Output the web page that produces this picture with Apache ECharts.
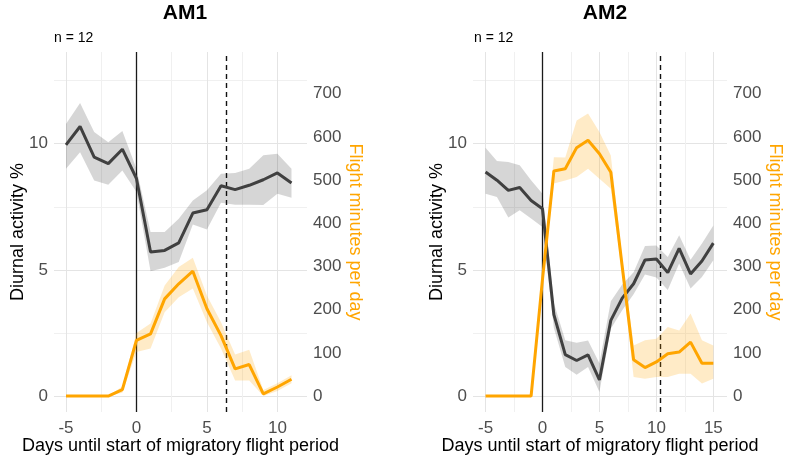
<!DOCTYPE html>
<html>
<head>
<meta charset="utf-8">
<script src="https://cdn.jsdelivr.net/npm/echarts@6/dist/echarts.min.js"></script>
<style>
  html, body { margin: 0; padding: 0; background: #fff; }
  #chart { width: 787px; height: 458px; }
</style>
</head>
<body>
<div id="chart"></div>
<script>
// AM1: days -5..11
const daysAM1 = [-5, -4, -3, -2, -1, 0, 1, 2, 3, 4, 5, 6, 7, 8, 9, 10, 11];
const actAM1 = [9.95, 10.68, 9.47, 9.21, 9.78, 8.62, 5.71, 5.77, 6.07, 7.25, 7.38, 8.33, 8.18, 8.35, 8.57, 8.84, 8.44];
const actLoAM1 = [9.01, 9.66, 8.54, 8.37, 8.94, 8.08, 4.95, 5.08, 5.31, 6.80, 6.60, 7.66, 7.58, 7.58, 7.57, 8.02, 7.86];
const actHiAM1 = [10.78, 11.61, 10.46, 10.06, 10.50, 9.01, 6.50, 6.50, 7.02, 7.75, 8.15, 8.81, 8.84, 9.01, 9.54, 9.60, 9.01];
const flyAM1 = [0, 0, 0, 0, 15, 129, 144, 225, 260, 289, 202, 140, 63, 73, 5, 21, 39];
const flyLoAM1 = [0, 0, 0, 0, 8, 102, 110, 194, 229, 249, 171, 110, 36, 36, 0, 12, 30];
const flyHiAM1 = [0, 0, 0, 0, 22, 146, 168, 256, 299, 320, 233, 171, 96, 107, 14, 30, 48];
const endAM1 = 6.35;

// AM2: days -5..15
const daysAM2 = [-5, -4, -3, -2, -1, 0, 1, 2, 3, 4, 5, 6, 7, 8, 9, 10, 11, 12, 13, 14, 15];
const actAM2 = [8.88, 8.55, 8.15, 8.26, 7.75, 7.42, 3.23, 1.64, 1.41, 1.63, 0.64, 3.00, 3.88, 4.45, 5.39, 5.43, 4.89, 5.85, 4.84, 5.35, 6.06];
const actLoAM2 = [8.02, 7.89, 7.07, 7.36, 7.03, 6.70, 2.70, 1.15, 0.85, 1.15, 0.16, 2.67, 3.40, 4.03, 4.82, 4.70, 4.20, 5.25, 4.26, 4.72, 5.38];
const actHiAM2 = [9.84, 9.31, 9.27, 9.14, 8.55, 8.02, 3.69, 2.21, 2.11, 2.20, 1.30, 3.76, 4.42, 4.91, 5.95, 5.97, 5.51, 6.37, 5.40, 6.04, 6.76];
const flyAM2 = [0, 0, 0, 0, 0, 270, 521, 526, 575, 592, 561, 518, 300, 84, 66, 79, 98, 102, 125, 76, 76];
const flyLoAM2 = [0, 0, 0, 0, 0, 260, 492, 499, 507, 526, 503, 480, 280, 44, 40, 44, 44, 52, 52, 29, 40];
const flyHiAM2 = [0, 0, 0, 0, 0, 280, 553, 552, 638, 654, 611, 557, 320, 117, 129, 133, 160, 152, 191, 129, 117];
const endAM2 = 10.3;

const FONT = 'Liberation Sans, Arial, sans-serif';
const GREY = '#404040';
const ORANGE = '#FFA500';
const GRIDCOL = ['#e4e4e4', '#f0f0f0'];

const pairs = (xs, ys) => xs.map((x, i) => [x, ys[i]]);

function xAxisFor(grid, min, max) {
  return {
    type: 'value', gridIndex: grid, min: min, max: max,
    minInterval: 2.5, maxInterval: 2.5,
    axisLine: { show: false }, axisTick: { show: false },
    axisLabel: {
      color: '#4d4d4d', fontSize: 17, fontFamily: FONT, margin: 8,
      showMinLabel: false, showMaxLabel: false,
      formatter: v => (Math.abs(v % 5) < 1e-9 ? String(v) : '')
    },
    splitLine: { show: true, showMinLine: false, showMaxLine: false,
      lineStyle: { color: GRIDCOL, width: 1 } },
    name: 'Days until start of migratory flight period',
    nameLocation: 'middle', nameGap: 25, nameMoveOverlap: false,
    nameTextStyle: { color: '#000', fontSize: 18, fontFamily: FONT }
  };
}

function yLeft(grid) {
  return {
    type: 'value', gridIndex: grid, position: 'left', min: -0.63, max: 13.63,
    minInterval: 2.5, maxInterval: 2.5,
    axisLine: { show: false }, axisTick: { show: false },
    axisLabel: {
      color: '#4d4d4d', fontSize: 17, fontFamily: FONT, margin: 6,
      showMinLabel: false, showMaxLabel: false,
      formatter: v => (Math.abs(v % 5) < 1e-9 ? String(Math.abs(v) < 1e-9 ? 0 : v) : '')
    },
    splitLine: { show: true, showMinLine: false, showMaxLine: false,
      lineStyle: { color: GRIDCOL, width: 1 } },
    name: 'Diurnal activity %', nameLocation: 'middle', nameGap: 27, nameMoveOverlap: false,
    nameTextStyle: { color: '#000', fontSize: 18, fontFamily: FONT }
  };
}

function yRight(grid) {
  return {
    type: 'value', gridIndex: grid, position: 'right', min: -36.8, max: 796.4,
    minInterval: 100, maxInterval: 100,
    axisLine: { show: false }, axisTick: { show: false },
    axisLabel: {
      color: '#4d4d4d', fontSize: 17, fontFamily: FONT, margin: 6,
      showMinLabel: false, showMaxLabel: false,
      formatter: v => (Math.abs(v % 100) < 1e-9 ? String(Math.abs(v) < 1e-9 ? 0 : v) : '')
    },
    splitLine: { show: false },
    name: 'Flight minutes per day', nameLocation: 'middle', nameGap: 39, nameRotate: -90,
    nameMoveOverlap: false,
    nameTextStyle: { color: ORANGE, fontSize: 18, fontFamily: FONT }
  };
}

// ribbon between lo and hi, drawn once as a polygon through the axis scales
function ribbon(xi, yi, days, lo, hi, fill) {
  return {
    type: 'custom', xAxisIndex: xi, yAxisIndex: yi, silent: true, clip: true,
    data: days.map((d, i) => [d, lo[i], hi[i]]),
    encode: { x: 0, y: [1, 2] },
    renderItem: (params, api) => {
      if (params.dataIndex !== 0) return null;
      const top = days.map((d, i) => api.coord([d, hi[i]]));
      const bot = days.map((d, i) => api.coord([d, lo[i]])).reverse();
      return { type: 'polygon', shape: { points: top.concat(bot) }, style: { fill: fill } };
    }
  };
}

function panel(grid, days, act, actLo, actHi, fly, flyLo, flyHi, endDay) {
  const xi = grid, yl = grid * 2, yr = grid * 2 + 1;
  const base = { type: 'line', xAxisIndex: xi, showSymbol: false, symbol: 'none', silent: true };
  return [
    ribbon(xi, yl, days, actLo, actHi, 'rgba(0,0,0,0.16)'),
    ribbon(xi, yr, days, flyLo, flyHi, 'rgba(255,165,0,0.22)'),
    Object.assign({}, base, {
      yAxisIndex: yl, data: pairs(days, act),
      lineStyle: { color: GREY, width: 3 },
      markLine: {
        silent: true, symbol: 'none', label: { show: false }, z: 1,
        data: [
          { xAxis: 0, lineStyle: { color: '#1a1a1a', width: 1.3, type: 'solid' } },
          { xAxis: endDay, lineStyle: { color: '#111', width: 1.4, type: [5, 4] } }
        ]
      }
    }),
    Object.assign({}, base, {
      yAxisIndex: yr, data: pairs(days, fly),
      lineStyle: { color: ORANGE, width: 3 }
    })
  ];
}

const chart = echarts.init(document.getElementById('chart'));
chart.setOption({
  animation: false,
  backgroundColor: '#fff',
  title: [
    { text: 'AM1', left: 180, top: -2, textAlign: 'center',
      textStyle: { fontSize: 21, fontWeight: 'bold', color: '#000', fontFamily: FONT } },
    { text: 'AM2', left: 600, top: -2, textAlign: 'center',
      textStyle: { fontSize: 21, fontWeight: 'bold', color: '#000', fontFamily: FONT } },
    { text: 'n = 12', left: 49, top: 26,
      textStyle: { fontSize: 14, fontWeight: 'normal', color: '#000', fontFamily: FONT } },
    { text: 'n = 12', left: 469, top: 26,
      textStyle: { fontSize: 14, fontWeight: 'normal', color: '#000', fontFamily: FONT } }
  ],
  grid: [
    { left: 54, right: 480, top: 52, bottom: 46, outerBoundsMode: 'none' },
    { left: 473, right: 60, top: 52, bottom: 46, outerBoundsMode: 'none' }
  ],
  xAxis: [xAxisFor(0, -5.85, 12.1), xAxisFor(1, -6.1, 16.2)],
  yAxis: [yLeft(0), yRight(0), yLeft(1), yRight(1)],
  series: [].concat(
    panel(0, daysAM1, actAM1, actLoAM1, actHiAM1, flyAM1, flyLoAM1, flyHiAM1, endAM1),
    panel(1, daysAM2, actAM2, actLoAM2, actHiAM2, flyAM2, flyLoAM2, flyHiAM2, endAM2)
  )
});
</script>
</body>
</html>
